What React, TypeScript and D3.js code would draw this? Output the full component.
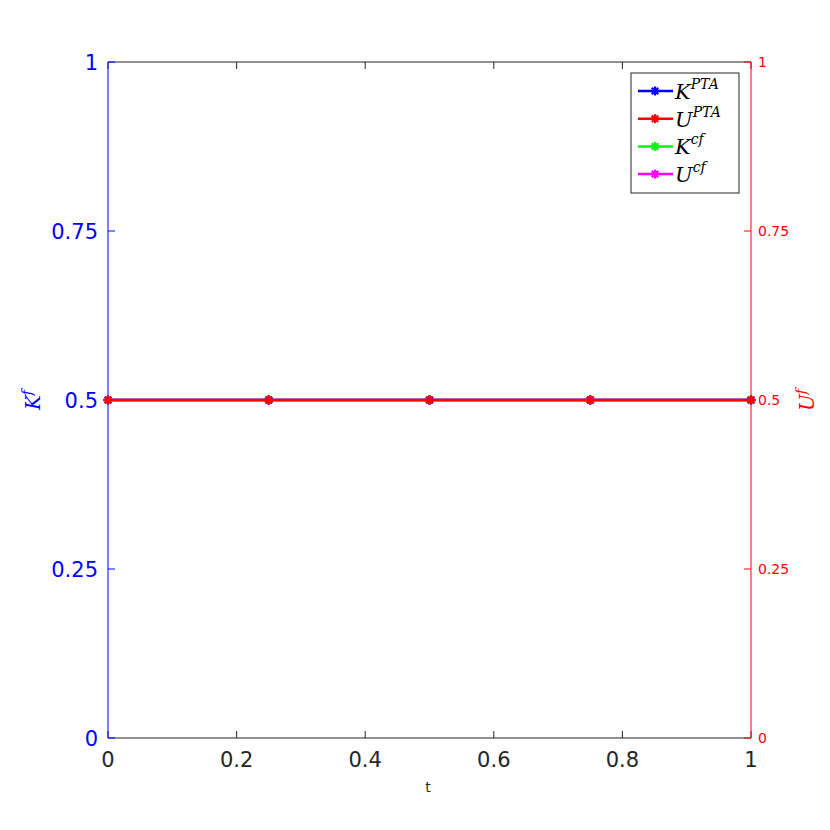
import React from "react";
import * as d3 from "d3";

const tValues = [0, 0.25, 0.5, 0.75, 1];
const kPTA = [0.5, 0.5, 0.5, 0.5, 0.5];
const uPTA = [0.5, 0.5, 0.5, 0.5, 0.5];
const kCF = [0.5, 0.5, 0.5, 0.5, 0.5];
const uCF = [0.5, 0.5, 0.5, 0.5, 0.5];
const xTicks = [0, 0.2, 0.4, 0.6, 0.8, 1];
const yTicks = [0, 0.25, 0.5, 0.75, 1];

const seriesList = [
  { name: "K", sup: "PTA", values: kPTA, color: "#0000ff", axis: "left" },
  { name: "U", sup: "PTA", values: uPTA, color: "#ff0000", axis: "right" },
  { name: "K", sup: "cf", values: kCF, color: "#00ff00", axis: "left" },
  { name: "U", sup: "cf", values: uCF, color: "#ff00ff", axis: "right" },
];
const drawOrder = [2, 3, 0, 1];

const L = 108, R = 751, T = 62, B = 738;
const SANS = "DejaVu Sans, Liberation Sans, sans-serif";
const SERIF = "DejaVu Serif, Liberation Serif, serif";

function Star({ x, y, color }: { x: number; y: number; color: string }) {
  const s = 4.5;
  const d = s * 0.72;
  return (
    <g stroke={color} strokeWidth={2.2}>
      <line x1={x - s} y1={y} x2={x + s} y2={y} />
      <line x1={x} y1={y - s} x2={x} y2={y + s} />
      <line x1={x - d} y1={y - d} x2={x + d} y2={y + d} />
      <line x1={x - d} y1={y + d} x2={x + d} y2={y - d} />
    </g>
  );
}

export default function App() {
  const x = d3.scaleLinear().domain([0, 1]).range([L, R]);
  const yL = d3.scaleLinear().domain([0, 1]).range([B, T]);
  const yR = d3.scaleLinear().domain([0, 1]).range([B, T]);
  const fmt = (v: number) => String(v);

  return (
    <svg width={830} height={830} style={{ position: "absolute", left: 0, top: 0, background: "#fff" }}>
      <rect x={0} y={0} width={830} height={830} fill="#fff" />
      <line x1={L} y1={T} x2={R} y2={T} stroke="#262626" strokeWidth={1} />
      <line x1={L} y1={B} x2={R} y2={B} stroke="#262626" strokeWidth={1} />
      {xTicks.map((v) => (
        <g key={"x" + v}>
          <line x1={x(v)} y1={B} x2={x(v)} y2={B - 7} stroke="#262626" />
          <line x1={x(v)} y1={T} x2={x(v)} y2={T + 7} stroke="#262626" />
          <text x={x(v)} y={B + 29} textAnchor="middle" fontFamily={SANS} fontSize={21} fill="#262626">
            {fmt(v)}
          </text>
        </g>
      ))}
      <text x={428} y={792} textAnchor="middle" fontFamily={SANS} fontSize={14} fill="#262626">t</text>
      <line x1={L} y1={T} x2={L} y2={B} stroke="#0000ff" strokeWidth={1} />
      {yTicks.map((v) => (
        <g key={"yl" + v}>
          <line x1={L} y1={yL(v)} x2={L + 7} y2={yL(v)} stroke="#0000ff" />
          <text x={L - 10} y={yL(v) + 8} textAnchor="end" fontFamily={SANS} fontSize={21} fill="#0000ff">
            {fmt(v)}
          </text>
        </g>
      ))}
      <text transform={`translate(40,400) rotate(-90)`} textAnchor="middle" fontFamily={SERIF} fontStyle="italic" fontSize={20} fill="#0000ff">
        K<tspan dy={-8} fontSize={14}>f</tspan>
      </text>
      <line x1={R} y1={T} x2={R} y2={B} stroke="#ff0000" strokeWidth={1} />
      {yTicks.map((v) => (
        <g key={"yr" + v}>
          <line x1={R} y1={yR(v)} x2={R - 7} y2={yR(v)} stroke="#ff0000" />
          <text x={R + 7} y={yR(v) + 5} textAnchor="start" fontFamily={SANS} fontSize={14} fill="#ff0000">
            {fmt(v)}
          </text>
        </g>
      ))}
      <text transform={`translate(814,400) rotate(-90)`} textAnchor="middle" fontFamily={SERIF} fontStyle="italic" fontSize={20} fill="#ff0000">
        U<tspan dy={-8} fontSize={14}>f</tspan>
      </text>
      {drawOrder.map((i) => {
        const s = seriesList[i];
        const y = s.axis === "left" ? yL : yR;
        const line = d3.line<number>().x((_, j) => x(tValues[j])).y((v) => y(v));
        return (
          <g key={"s" + i}>
            <path d={line(s.values) || ""} fill="none" stroke={s.color} strokeWidth={2.5} />
            {s.values.map((v, j) => (
              <Star key={j} x={x(tValues[j])} y={y(v)} color={s.color} />
            ))}
          </g>
        );
      })}
      <rect x={631} y={73} width={108} height={120} fill="#fff" stroke="#262626" strokeWidth={1} />
      {seriesList.map((s, i) => {
        const ly = 91 + i * 27.7;
        return (
          <g key={"lg" + i}>
            <line x1={638} y1={ly} x2={673} y2={ly} stroke={s.color} strokeWidth={2.5} />
            <Star x={655} y={ly} color={s.color} />
            <text x={675} y={ly + 8} fontFamily={SERIF} fontStyle="italic" fontSize={21} fill="#000">
              {s.name}
              <tspan dy={-10} fontSize={14}>{s.sup}</tspan>
            </text>
          </g>
        );
      })}
    </svg>
  );
}
